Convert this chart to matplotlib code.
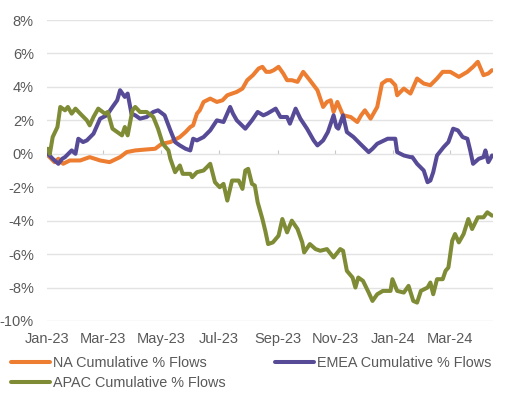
import matplotlib
matplotlib.use("Agg")
import matplotlib.pyplot as plt
import matplotlib.dates as mdates
from matplotlib.ticker import NullFormatter
import pandas as pd

# days since 2023-01-01 and cumulative % flows
na_days = [1, 8, 12, 17, 24, 35, 45, 56, 66, 77, 84, 93, 103, 114, 121, 130, 140, 146,
           151, 154, 158, 161, 165, 172, 179, 185, 190, 195, 200, 206, 211, 217, 223,
           227, 231, 235, 239, 244, 249, 253, 258, 264, 270, 277, 285, 291, 295, 299,
           302, 306, 312, 320, 327, 331, 335, 341, 348, 353, 358, 362, 367, 369, 376,
           383, 390, 397, 404, 411, 417, 425, 434, 443, 449, 454, 457, 460, 465, 469]
na_vals = [-0.1, -0.5, -0.3, -0.6, -0.4, -0.4, -0.2, -0.4, -0.5, -0.2, 0.1, 0.2, 0.25,
           0.3, 0.6, 0.7, 1.0, 1.3, 1.6, 1.7, 2.4, 2.6, 3.1, 3.3, 3.1, 3.2, 3.5, 3.6,
           3.7, 3.9, 4.4, 4.7, 5.1, 5.2, 4.9, 4.9, 5.0, 5.2, 4.8, 4.4, 4.4, 4.3, 4.9,
           4.4, 3.8, 2.8, 3.1, 3.2, 2.5, 3.1, 2.3, 2.2, 1.9, 2.3, 2.6, 2.1, 2.8, 4.2,
           4.4, 4.4, 4.1, 3.5, 3.9, 3.6, 4.5, 4.2, 4.1, 4.5, 4.9, 4.9, 4.6, 4.9, 5.2,
           5.5, 5.1, 4.7, 4.8, 5.0]

emea_days = [1, 6, 12, 16, 19, 26, 30, 33, 38, 42, 49, 56, 63, 69, 74, 77, 82, 85, 89,
             93, 98, 105, 112, 117, 124, 130, 135, 140, 146, 151, 154, 158, 165, 172,
             179, 186, 193, 196, 200, 209, 216, 222, 228, 232, 241, 246, 253, 256, 262,
             267, 274, 281, 285, 291, 296, 302, 305, 307, 312, 316, 323, 330, 339, 343,
             348, 359, 367, 369, 376, 383, 385, 390, 397, 401, 404, 407, 411, 418, 423,
             428, 433, 438, 443, 446, 449, 455, 460, 462, 465, 469]
emea_vals = [0.0, -0.3, -0.6, -0.3, -0.2, 0.2, 0.0, 0.9, 0.7, 0.8, 1.2, 2.1, 2.3, 2.8,
             3.2, 3.8, 3.4, 3.6, 2.4, 2.3, 2.1, 2.2, 2.5, 2.6, 2.3, 1.4, 0.7, 0.5, 0.3,
             0.2, 0.9, 0.8, 1.0, 1.4, 2.0, 1.9, 2.8, 2.4, 2.0, 1.5, 2.0, 2.5, 2.3, 2.4,
             2.7, 2.2, 2.2, 1.8, 2.7, 2.1, 1.5, 0.8, 0.5, 0.8, 1.3, 2.3, 1.6, 1.5, 2.3,
             1.3, 1.0, 0.6, 0.1, 0.3, 0.6, 0.9, 0.9, 0.1, -0.1, -0.2, -0.2, -0.6, -1.0,
             -1.7, -1.6, -1.1, -0.1, 0.4, 0.7, 1.5, 1.4, 1.0, 0.9, 0.2, -0.6, -0.3, -0.2,
             0.2, -0.5, -0.1]

apac_days = [1, 3, 6, 11, 14, 19, 22, 26, 30, 35, 42, 45, 49, 54, 61, 64, 69, 74, 79,
             82, 85, 90, 93, 98, 105, 112, 117, 122, 128, 130, 135, 140, 143, 151, 153,
             158, 165, 172, 177, 182, 186, 190, 195, 202, 206, 209, 212, 216, 219, 222,
             227, 230, 233, 238, 244, 248, 253, 258, 264, 269, 271, 277, 283, 288, 295,
             302, 309, 312, 316, 322, 325, 328, 333, 339, 343, 348, 354, 362, 364, 369,
             376, 381, 386, 390, 394, 401, 404, 407, 411, 417, 420, 423, 427, 430, 434,
             439, 444, 448, 454, 460, 464, 469]
apac_vals = [0.3, 0.0, 1.0, 1.6, 2.8, 2.6, 2.8, 2.4, 2.7, 2.4, 2.0, 1.7, 2.2, 2.7, 2.4,
             2.5, 1.5, 1.3, 1.1, 1.6, 1.1, 2.6, 2.8, 2.5, 2.5, 2.2, 1.5, 0.6, 0.2, -0.3,
             -1.1, -0.7, -1.2, -1.2, -1.4, -1.1, -1.0, -0.6, -1.7, -2.0, -1.8, -2.8, -1.6,
             -1.6, -2.1, -1.0, -0.9, -1.8, -1.9, -2.9, -3.9, -4.6, -5.4, -5.3, -4.9, -3.9,
             -4.7, -4.0, -4.5, -5.3, -5.9, -5.4, -5.7, -5.8, -5.7, -6.2, -5.7, -5.8, -7.0,
             -7.4, -8.0, -7.4, -7.6, -8.3, -8.8, -8.4, -8.2, -8.2, -7.5, -8.2, -8.3, -7.9,
             -8.8, -8.9, -8.2, -8.0, -7.7, -8.4, -7.5, -7.5, -7.0, -6.8, -5.2, -4.8, -5.3,
             -4.8, -3.9, -4.5, -3.8, -3.8, -3.5, -3.7]

labels = ["NA Cumulative % Flows", "EMEA Cumulative % Flows", "APAC Cumulative % Flows"]
colors = ["#ED7D31", "#574B97", "#7F8B35"]

start = pd.Timestamp("2023-01-01")
def to_dates(days):
    return start + pd.to_timedelta(days, unit="D")

plt.rcParams["font.family"] = ["Liberation Sans", "DejaVu Sans"]
plt.rcParams["font.size"] = 10.5

fig = plt.figure(figsize=(5.07, 3.96), dpi=100)
ax = fig.add_axes([47 / 507, 1 - 321 / 396, 446 / 507, 301 / 396])

lines = []
for days, vals, lab, col in [(na_days, na_vals, labels[0], colors[0]),
                             (emea_days, emea_vals, labels[1], colors[1]),
                             (apac_days, apac_vals, labels[2], colors[2])]:
    ln, = ax.plot(to_dates(days), vals, color=col, lw=2.9, label=lab,
                  solid_joinstyle="round", solid_capstyle="round")
    lines.append(ln)

ax.set_ylim(-10, 8)
ax.set_yticks(range(-10, 9, 2))
ax.set_yticklabels([f"{v}%" for v in range(-10, 9, 2)])
ax.set_xlim(start, start + pd.Timedelta(days=470))
ax.xaxis.set_major_locator(mdates.MonthLocator(bymonth=[1, 3, 5, 7, 9, 11]))
ax.xaxis.set_major_formatter(mdates.DateFormatter("%b-%y"))

ax.grid(axis="y", color="#e3e3e3", lw=1.0)
ax.set_axisbelow(True)
for s in ax.spines.values():
    s.set_visible(False)
ax.tick_params(axis="both", length=0, colors="#595959", labelsize=10.5)
ax.tick_params(axis="y", pad=9.5)
ax.tick_params(axis="x", pad=8)

# horizontal axis line at 0% with small tick marks, no labels
zero = ax.secondary_xaxis(10 / 18)
zero.xaxis.set_major_locator(mdates.MonthLocator(bymonth=[1, 3, 5, 7, 9, 11]))
zero.xaxis.set_major_formatter(NullFormatter())
zero.tick_params(axis="x", direction="out", length=3, color="#c8c8c8")
zero.spines["bottom"].set_color("#c8c8c8")
zero.spines["bottom"].set_linewidth(1.0)
for k in ["top", "left", "right"]:
    zero.spines[k].set_visible(False)

handles = [lines[0], lines[2], lines[1]]
leg = fig.legend(handles, [h.get_label() for h in handles], ncol=2, loc="upper left",
                 bbox_to_anchor=(11 / 507, 1 - 356 / 396), frameon=False, borderpad=0,
                 borderaxespad=0, handlelength=2.7, handletextpad=0.2,
                 columnspacing=3.4, labelspacing=0.4, fontsize=10.4)
for t in leg.get_texts():
    t.set_color("#595959")

fig.savefig("out.png", dpi=100)
